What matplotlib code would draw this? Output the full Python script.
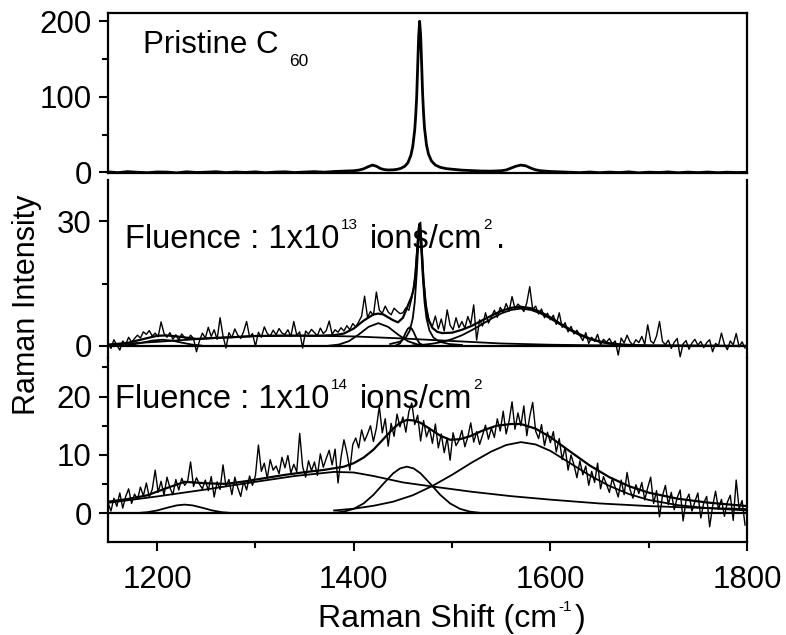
import numpy as np
import matplotlib
matplotlib.use('Agg')
import matplotlib.pyplot as plt
from matplotlib.ticker import MultipleLocator, FixedLocator

plt.rcParams['font.family'] = ['Liberation Sans', 'DejaVu Sans']

# ---- pristine C60 ----
top_x = [1150, 1160, 1170, 1180, 1190, 1200, 1210, 1220, 1230, 1240, 1250, 1260, 1270,
         1280, 1290, 1300, 1310, 1320, 1330, 1340, 1350, 1360, 1370, 1380, 1390,
         1400, 1405, 1410, 1415, 1419, 1423, 1427, 1431, 1435, 1440, 1444, 1448, 1452,
         1455, 1458, 1460, 1462, 1463, 1464, 1465, 1466, 1467, 1468, 1469, 1470, 1471,
         1472, 1474, 1476, 1479, 1483, 1488, 1494, 1500, 1510, 1520, 1530, 1540, 1550,
         1555, 1560, 1565, 1570, 1575, 1580, 1585, 1590, 1600, 1610, 1620, 1630, 1640,
         1650, 1660, 1670, 1680, 1690, 1700, 1710, 1720, 1730, 1740, 1750, 1760, 1770,
         1780, 1790, 1800]
top_y = [0.5, -0.5, 0.8, 0.0, -0.6, 0.4, 0.2, -0.8, 0.6, -0.3, 0.1, 0.7, -0.5,
         0.3, -0.2, 0.5, -0.7, 0.2, 0.6, -0.4, 0.3, 0.8, 0.1, 1.0, 1.5,
         2.0, 2.8, 4.5, 7.5, 9.5, 8.0, 5.0, 3.5, 3.0, 3.2, 3.8, 5.2, 8.0,
         12.5, 22, 34, 56, 75, 100, 140, 180, 200, 182, 145, 105, 78,
         58, 36, 24, 15, 9.5, 6.5, 4.8, 4.0, 2.8, 2.2, 1.6, 1.5, 2.0,
         3.0, 5.5, 8.0, 9.5, 8.5, 5.5, 3.2, 2.0, 1.0, 0.5, 0.0, -0.5, 0.3,
         -0.6, 0.2, -0.4, 0.5, -0.8, 0.1, -0.3, 0.4, -0.7, 0.2, -0.5, 0.3, -0.6,
         0.1, -0.4, 0.0]

# ---- fluence 1e13: measured spectrum (3 cm-1 steps from 1150) ----
mid_y = [0.8, -0.6, 1.5, 0.2, -1.0, 1.2, 0.4, 2.1, 0.9, 1.8,
         2.6, 1.9, 3.4, 2.8, 3.7, 2.4, 3.1, 2.2, 5.8, 3.0,
         2.1, 3.2, 1.6, 2.7, 1.4, 2.9, 2.0, 1.5, 2.6, 1.8,
         -1.4, 1.2, 3.1, 1.9, 4.5, 2.3, 3.9, 1.6, 6.8, 2.4,
         -0.5, 3.2, 2.0, 4.1, 2.6, 1.8, 3.5, 5.9, 2.2, 3.0,
         -0.1, 3.3, 2.1, 4.6, 3.0, 2.4, 3.8, 2.7, 4.2, 3.1,
         2.8, 3.9, 2.3, 5.9, 2.6, 3.4, -0.5, 3.6, 2.9, 4.0,
         3.2, 2.5, 4.3, 3.0, 3.7, 6.0, 2.8, 3.9, 3.3, 4.4,
         3.6, 4.9, 3.9, 5.4, 4.6, 5.8, 7.2, 12.0, 6.9, 8.3,
         7.4, 13.0, 8.6, 7.9, 9.6, 8.2, 7.5, 9.1, 8.4, 7.8,
         8.0, 9.2, 8.6, 11.5, 16.0, 25.5, 29.8, 16.5, 8.8, 5.6,
         4.8, 7.2, 4.1, 6.5, 3.6, 8.7, 5.0, 3.9, 6.8, 4.4,
         5.9, 4.3, 7.1, 5.2, 9.9, 1.4, 6.3, 4.8, 8.0, 5.5,
         7.0, 8.6, 6.9, 9.3, 8.1, 10.2, 8.4, 11.9, 9.0, 10.1,
         9.4, 8.3, 10.4, 14.3, 8.8, 9.6, 7.7, 8.9, 6.8, 7.9,
         6.3, 7.4, 5.2, 8.0, 4.5, 5.6, 3.4, 4.7, 2.9, 3.8,
         2.5, 1.3, 3.2, 0.6, 2.1, 1.1, 2.8, 0.3, 1.6, 0.9,
         1.8, 0.5, 1.2, -2.2, 1.9, 0.7, 2.6, 1.0, 0.2, 1.5,
         0.8, 2.3, 0.4, 5.1, 1.2, 0.6, 2.4, 5.9, 1.1, 0.3,
         1.4, -0.6, 0.9, 1.8, -2.6, 0.5, 1.3, -0.8, 0.7, 1.6,
         0.2, 1.1, -0.4, 0.8, 1.5, -1.4, 0.6, 0.1, 3.1, 0.4,
         -0.9, 1.2, 0.3, 3.0, -0.2, 1.0, -0.5]

mid_fit_x = [1150, 1170, 1190, 1200, 1210, 1220, 1240, 1260, 1280, 1300,
             1330, 1360, 1380, 1390, 1400, 1410, 1420, 1425, 1430, 1440,
             1445, 1450, 1453, 1456, 1459, 1461, 1463, 1465, 1466, 1467,
             1468, 1469, 1471, 1473, 1476, 1480, 1485, 1490, 1500, 1510,
             1520, 1530, 1540, 1550, 1560, 1570, 1580, 1590, 1600, 1610,
             1620, 1630, 1640, 1650, 1660, 1670, 1680, 1700, 1750, 1800]
mid_fit_y = [0.3, 0.75, 1.9, 2.45, 2.55, 2.3, 1.7, 1.95, 2.15, 2.4,
             2.5, 2.45, 2.6, 3.0, 4.2, 6.1, 7.6, 7.8, 7.6, 6.2,
             5.7, 6.8, 8.5, 10.3, 12.0, 13.85, 17.8, 24.8, 28.25, 29.5,
             27.6, 23.6, 15.6, 10.2, 6.4, 4.35, 3.4, 3.1, 3.2, 3.9,
             4.85, 6.1, 7.3, 8.45, 9.2, 9.45, 9.1, 8.2, 6.9, 5.4,
             4.0, 2.8, 1.8, 1.1, 0.65, 0.4, 0.25, 0.1, 0.05, 0.0]

# fitted components
mid_broad_x = [1150, 1200, 1250, 1300, 1350, 1400, 1450, 1500, 1550, 1600, 1650, 1700, 1750, 1800]
mid_broad_y = [0.3, 1.0, 1.8, 2.4, 2.5, 2.3, 1.8, 1.2, 0.6, 0.3, 0.15, 0.1, 0.05, 0.0]
mid_p1205_x = [1165, 1175, 1185, 1195, 1205, 1215, 1225, 1235, 1245]
mid_p1205_y = [0.1, 0.35, 0.8, 1.3, 1.5, 1.3, 0.8, 0.35, 0.1]
mid_p1425_x = [1375, 1385, 1395, 1405, 1415, 1425, 1435, 1445, 1455, 1465, 1475]
mid_p1425_y = [0.07, 0.35, 1.15, 2.75, 4.6, 5.5, 4.6, 2.75, 1.15, 0.35, 0.07]
mid_p1457_x = [1442, 1447, 1450, 1453, 1455, 1457, 1459, 1461, 1464, 1467, 1472]
mid_p1457_y = [0.05, 0.6, 1.7, 3.3, 4.15, 4.5, 4.15, 3.3, 1.7, 0.6, 0.05]
mid_p1467_x = [1437, 1447, 1453, 1457, 1460, 1462, 1464, 1465, 1466, 1467, 1468,
               1469, 1470, 1472, 1474, 1477, 1481, 1487, 1497, 1510]
mid_p1467_y = [0.47, 1.04, 2.04, 3.72, 6.65, 10.5, 17.3, 21.6, 25.4, 27.0, 25.4,
               21.6, 17.3, 10.5, 6.65, 3.72, 2.04, 1.04, 0.47, 0.23]
mid_p1570_x = [1460, 1470, 1480, 1490, 1500, 1510, 1520, 1530, 1540, 1550, 1560, 1570,
               1580, 1590, 1600, 1610, 1620, 1630, 1640, 1650, 1660, 1670, 1680]
mid_p1570_y = [0.14, 0.28, 0.55, 0.98, 1.65, 2.58, 3.8, 5.17, 6.59, 7.84, 8.69, 9.0,
               8.69, 7.84, 6.59, 5.17, 3.8, 2.58, 1.65, 0.98, 0.55, 0.28, 0.14]

# ---- fluence 1e14: measured spectrum (3 cm-1 steps from 1150) ----
bot_y = [1.8, 0.4, 2.6, 1.2, 3.5, 0.9, 2.9, 4.2, 1.7, 3.3,
         2.4, 4.5, 3.0, 5.2, 2.8, 4.1, 7.4, 3.6, 5.5, 3.1,
         6.2, 4.4, 3.2, 5.8, 4.0, 6.0, 4.8, 5.5, 8.8, 4.6,
         6.1, 5.0, 4.2, 5.7, 3.9, 6.3, 2.8, 5.4, 4.1, 8.3,
         4.6, 5.8, 3.2, 6.2, 4.4, 2.9, 5.5, 4.0, 6.4, 4.8,
         6.5, 11.7, 7.2, 8.6, 6.0, 9.2, 7.4, 8.1, 6.8, 9.6,
         7.8, 9.9, 6.9, 8.4, 7.1, 13.7, 8.0, 6.2, 9.0, 7.3,
         8.8, 6.5, 10.2, 7.9, 9.4, 10.8, 8.3, 11.0, 5.2, 9.6,
         12.6, 10.4, 7.4, 11.8, 12.9, 11.2, 14.3, 12.4, 13.6, 15.0,
         12.3, 14.6, 18.3, 13.8, 16.2, 11.5, 15.4, 13.2, 17.0, 14.8,
         16.5, 13.9, 17.4, 18.9, 15.2, 16.8, 12.4, 15.9, 13.1, 14.6,
         12.0, 15.3, 11.2, 13.6, 10.4, 12.9, 9.1, 13.8, 11.6, 12.5,
         14.2, 11.4, 13.1, 15.5, 12.2, 14.0, 11.8, 13.4, 15.1, 12.7,
         14.6, 13.0, 16.2, 14.1, 17.5, 13.6, 15.8, 19.1, 14.4, 17.2,
         15.0, 18.4, 13.3, 16.6, 19.0, 14.1, 12.8, 15.2, 11.6, 13.9,
         12.1, 14.0, 10.5, 12.8, 9.2, 11.3, 7.4, 10.0, 8.3, 6.1,
         9.0, 6.6, 8.1, 4.8, 7.2, 5.3, 8.6, 4.2, 6.3, 5.0,
         3.6, 6.0, 4.4, 2.8, 5.7, 3.2, 7.0, 4.1, 2.6, 4.9,
         3.4, 5.3, 2.3, 4.4, 6.2, 1.7, 3.9, -0.6, 3.0, 4.8,
         1.5, 3.6, 0.6, 2.7, 4.0, -1.3, 2.2, 3.3, 0.4, 2.0,
         3.5, -0.8, 1.8, 2.9, -2.3, 1.2, 3.8, 0.7, 2.4, -0.5,
         1.9, 3.1, -1.2, 5.7, 0.8, 2.2, -2.0]

bot_fit_x = [1150, 1170, 1190, 1210, 1228, 1250, 1270, 1290, 1310, 1330,
             1350, 1370, 1390, 1400, 1410, 1420, 1430, 1440, 1447, 1454,
             1461, 1468, 1478, 1488, 1498, 1508, 1518, 1530, 1545, 1560,
             1570, 1585, 1600, 1620, 1640, 1660, 1680, 1700, 1730, 1760, 1800]
bot_fit_y = [2.0, 2.45, 3.1, 4.35, 5.4, 5.15, 5.05, 5.5, 6.05, 6.6,
             7.05, 7.45, 8.0, 8.6, 9.55, 10.9, 12.7, 14.5, 15.5, 16.0,
             15.9, 15.5, 14.4, 13.3, 12.6, 12.7, 13.2, 14.1, 15.0, 15.3,
             15.3, 14.5, 13.05, 10.6, 8.2, 6.2, 4.65, 3.55, 2.5, 1.85, 1.25]

bot_p1228_x = [1180, 1190, 1200, 1210, 1220, 1228, 1236, 1246, 1256, 1266, 1276]
bot_p1228_y = [0.06, 0.2, 0.5, 0.96, 1.37, 1.5, 1.37, 0.96, 0.5, 0.2, 0.06]
bot_broad_x = [1150, 1200, 1250, 1300, 1340, 1380, 1400, 1420, 1450, 1480, 1520,
               1560, 1600, 1650, 1700, 1750, 1800]
bot_broad_y = [1.8, 2.9, 4.1, 5.4, 6.4, 7.1, 7.0, 6.4, 5.3, 4.6, 3.7,
               2.95, 2.35, 1.7, 1.25, 0.95, 0.75]
bot_p1454_x = [1380, 1390, 1400, 1410, 1420, 1430, 1440, 1447, 1454, 1461, 1468,
               1478, 1488, 1498, 1508, 1518, 1528]
bot_p1454_y = [0.1, 0.3, 0.78, 1.7, 3.17, 5.05, 6.84, 7.69, 8.0, 7.69, 6.84,
               5.05, 3.17, 1.7, 0.78, 0.3, 0.1]
bot_p1570_x = [1380, 1400, 1420, 1440, 1460, 1480, 1500, 1520, 1540, 1555, 1570,
               1585, 1600, 1620, 1640, 1660, 1680, 1700, 1730, 1760, 1800]
bot_p1570_y = [0.5, 0.8, 1.3, 2.0, 3.1, 4.7, 6.6, 8.7, 10.6, 11.7, 12.2,
               11.8, 10.7, 8.6, 6.5, 4.7, 3.3, 2.3, 1.4, 0.9, 0.5]

shift_x = np.arange(1150, 1800, 3)

W, H = 786, 635
fig = plt.figure(figsize=(W / 100, H / 100), dpi=100)


def px_axes(left, top, right, bottom):
    return fig.add_axes([left / W, 1 - bottom / H, (right - left) / W, (bottom - top) / H])


ax_top = px_axes(108, 13, 747, 173)
ax_mid = px_axes(108, 180, 747, 358)
ax_bot = px_axes(108, 358, 747, 542)

for ax in (ax_top, ax_mid, ax_bot):
    ax.set_xlim(1150, 1800)
    for sp in ax.spines.values():
        sp.set_linewidth(1.6)
    ax.tick_params(axis='y', which='major', direction='out', length=6.7, width=1.5,
                   labelsize=22.5, pad=5)
    ax.tick_params(axis='y', which='minor', direction='out', length=4.5, width=1.5)
    ax.tick_params(axis='x', which='both', top=False)

ax_top.tick_params(axis='x', which='both', bottom=False, labelbottom=False)
ax_mid.tick_params(axis='x', which='both', bottom=False, labelbottom=False)
ax_mid.spines['top'].set_visible(False)
ax_mid.spines['bottom'].set_visible(False)
ax_bot.spines['top'].set_visible(False)

ax_top.set_ylim(-1, 211)
ax_top.yaxis.set_major_locator(FixedLocator([0, 100, 200]))
ax_top.yaxis.set_minor_locator(MultipleLocator(50))

ax_mid.set_ylim(-2.9, 40)
ax_mid.yaxis.set_major_locator(FixedLocator([0, 30]))
ax_mid.yaxis.set_minor_locator(MultipleLocator(15))

ax_bot.set_ylim(-4.9, 26.6)
ax_bot.yaxis.set_major_locator(FixedLocator([0, 10, 20]))
ax_bot.yaxis.set_minor_locator(MultipleLocator(5))
ax_bot.xaxis.set_major_locator(FixedLocator([1200, 1400, 1600, 1800]))
ax_bot.xaxis.set_minor_locator(MultipleLocator(100))
ax_bot.tick_params(axis='x', which='major', direction='out', length=6.7, width=1.5,
                   labelsize=22.5, pad=10)
ax_bot.tick_params(axis='x', which='minor', direction='out', length=4.5, width=1.5)

# spectra
ax_top.plot(top_x, top_y, color='black', lw=2.0)

ax_mid.axhline(0, color='black', lw=1.6)
ax_mid.plot(shift_x, mid_y, color='black', lw=1.0)
for cx, cy in ((mid_broad_x, mid_broad_y), (mid_p1205_x, mid_p1205_y),
               (mid_p1425_x, mid_p1425_y), (mid_p1457_x, mid_p1457_y),
               (mid_p1467_x, mid_p1467_y), (mid_p1570_x, mid_p1570_y)):
    ax_mid.plot(cx, cy, color='black', lw=1.3)
ax_mid.plot(mid_fit_x, mid_fit_y, color='black', lw=1.6)

ax_bot.axhline(0, color='black', lw=1.6)
ax_bot.plot(shift_x, bot_y, color='black', lw=1.0)
for cx, cy in ((bot_p1228_x, bot_p1228_y), (bot_broad_x, bot_broad_y),
               (bot_p1454_x, bot_p1454_y), (bot_p1570_x, bot_p1570_y)):
    ax_bot.plot(cx, cy, color='black', lw=1.3)
ax_bot.plot(bot_fit_x, bot_fit_y, color='black', lw=1.6)


def draw_runs(x_px, y_px, runs, align='left'):
    # runs: (text, size, rise in px, gap before in px)
    r = fig.canvas.get_renderer()
    items = []
    pos = 0
    for s, size, rise, gap in runs:
        pos += gap
        t = fig.text(0, 0, s, fontsize=size, ha='left', va='baseline')
        w = t.get_window_extent(renderer=r).width
        items.append((t, pos, rise))
        pos += w
    x0 = x_px - (pos / 2 if align == 'center' else 0)
    for t, off, rise in items:
        t.set_position(((x0 + off) / W, 1 - (y_px - rise) / H))


draw_runs(143, 53, [('Pristine C', 22.5, 0, 0), ('60', 12.5, -13, 11)])
draw_runs(125, 248, [('Fluence : 1x10', 23.5, 0, 0), ('13', 11, 19, 2),
                     ('ions/cm', 23.5, 0, 12), ('2', 11, 19, 1), ('.', 23.5, 0, 4)])
draw_runs(115, 408, [('Fluence : 1x10', 23.5, 0, 0), ('14', 11, 19, 2),
                     ('ions/cm', 23.5, 0, 12), ('2', 11, 19, 1)])
draw_runs(452, 627, [('Raman Shift (cm', 23, 0, 0), ('-1', 11, 16, 1), (')', 23, 0, 3)],
          align='center')
fig.text(27 / W, 1 - 305 / H, 'Raman Intensity', rotation=90, ha='center', va='center',
         fontsize=22)

fig.savefig('out.png', dpi=100)
